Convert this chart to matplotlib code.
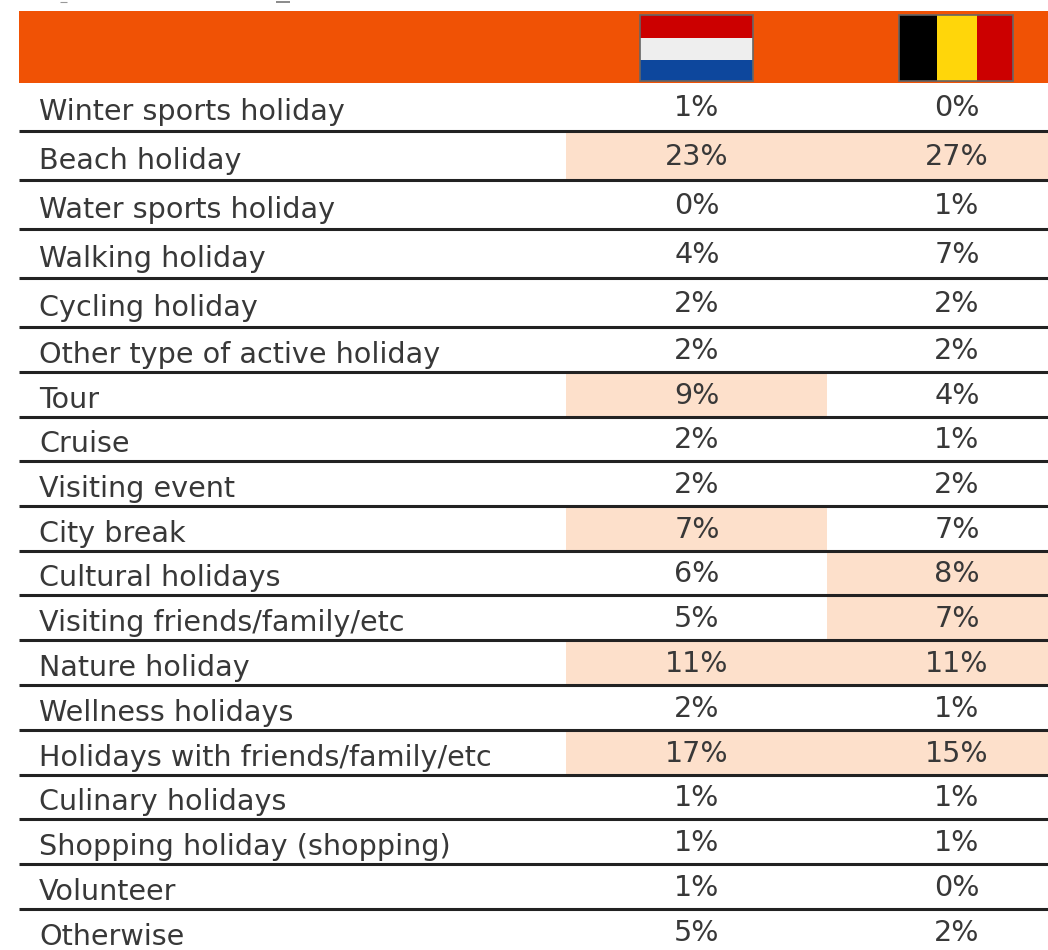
import matplotlib
matplotlib.use("Agg")
import matplotlib.pyplot as plt

# holiday types and share per country
holiday_types = ["Winter sports holiday", "Beach holiday", "Water sports holiday",
                 "Walking holiday", "Cycling holiday", "Other type of active holiday",
                 "Tour", "Cruise", "Visiting event", "City break", "Cultural holidays",
                 "Visiting friends/family/etc", "Nature holiday", "Wellness holidays",
                 "Holidays with friends/family/etc", "Culinary holidays",
                 "Shopping holiday (shopping)", "Volunteer", "Otherwise"]
netherlands = [1, 23, 0, 4, 2, 2, 9, 2, 2, 7, 6, 5, 11, 2, 17, 1, 1, 1, 5]
belgium = [0, 27, 1, 7, 2, 2, 4, 1, 2, 7, 8, 7, 11, 1, 15, 1, 1, 0, 2]
nl_highlight = ["Beach holiday", "Tour", "City break", "Nature holiday",
                "Holidays with friends/family/etc"]
be_highlight = ["Beach holiday", "Cultural holidays", "Visiting friends/family/etc",
                "Nature holiday", "Holidays with friends/family/etc"]

# bottom edge of every row in image pixels
row_bottoms = [131, 180, 229, 278, 327, 372, 417, 461, 506, 551, 595, 640, 685,
               730, 775, 819, 864, 909, 954]

fig = plt.figure(figsize=(10.48, 9.5), dpi=100)
ax = fig.add_axes([0, 0, 1, 1])
ax.set_xlim(0, 1048)
ax.set_ylim(950, 0)
ax.axis("off")

plt.rcParams["font.family"] = "DejaVu Sans"
text_color = "#383838"
font_size = 20.6

# bits of the cut off title above the table
ax.plot([60, 67], [1.5, 1.5], color="#999999", lw=0.8, solid_capstyle="butt")
ax.plot([276, 290], [1.5, 1.5], color="#777777", lw=1.2, solid_capstyle="butt")

# header band and flags
ax.fill_between([19, 1048], 11, 83, color="#f05205", lw=0)
for y0, y1, c in [(15, 38, "#cc0000"), (38, 60, "#eeeeee"), (60, 81, "#0d479d")]:
    ax.fill_between([640, 753], y0, y1, color=c, lw=0)
ax.add_patch(plt.Rectangle((640, 15), 113, 66, fill=False, ec="#666666", lw=1.2))
for x0, x1, c in [(899, 937, "#000000"), (937, 977, "#ffd60a"), (977, 1013, "#cc0000")]:
    ax.fill_between([x0, x1], 15, 81, color=c, lw=0)
ax.add_patch(plt.Rectangle((899, 15), 114, 66, fill=False, ec="#666666", lw=1.2))

top = 83
for i, name in enumerate(holiday_types):
    bottom = row_bottoms[i]
    h = bottom - top
    if name in nl_highlight:
        ax.fill_between([566, 827], top, bottom, color="#fde0cb", lw=0)
    if name in be_highlight:
        ax.fill_between([827, 1048], top, bottom, color="#fde0cb", lw=0)
    if i < len(holiday_types) - 1:
        ax.plot([19, 1048], [bottom, bottom], color="#222222", lw=2.2, solid_capstyle="butt")
    ax.text(39, bottom - (h - 11) / 2, name, fontsize=font_size, color=text_color, va="center", ha="left")
    ax.text(697, bottom - (h - 3) / 2, "%d%%" % netherlands[i], fontsize=font_size, color=text_color, va="center", ha="center")
    ax.text(957, bottom - (h - 3) / 2, "%d%%" % belgium[i], fontsize=font_size, color=text_color, va="center", ha="center")
    top = bottom

fig.savefig("out.png", dpi=100)
